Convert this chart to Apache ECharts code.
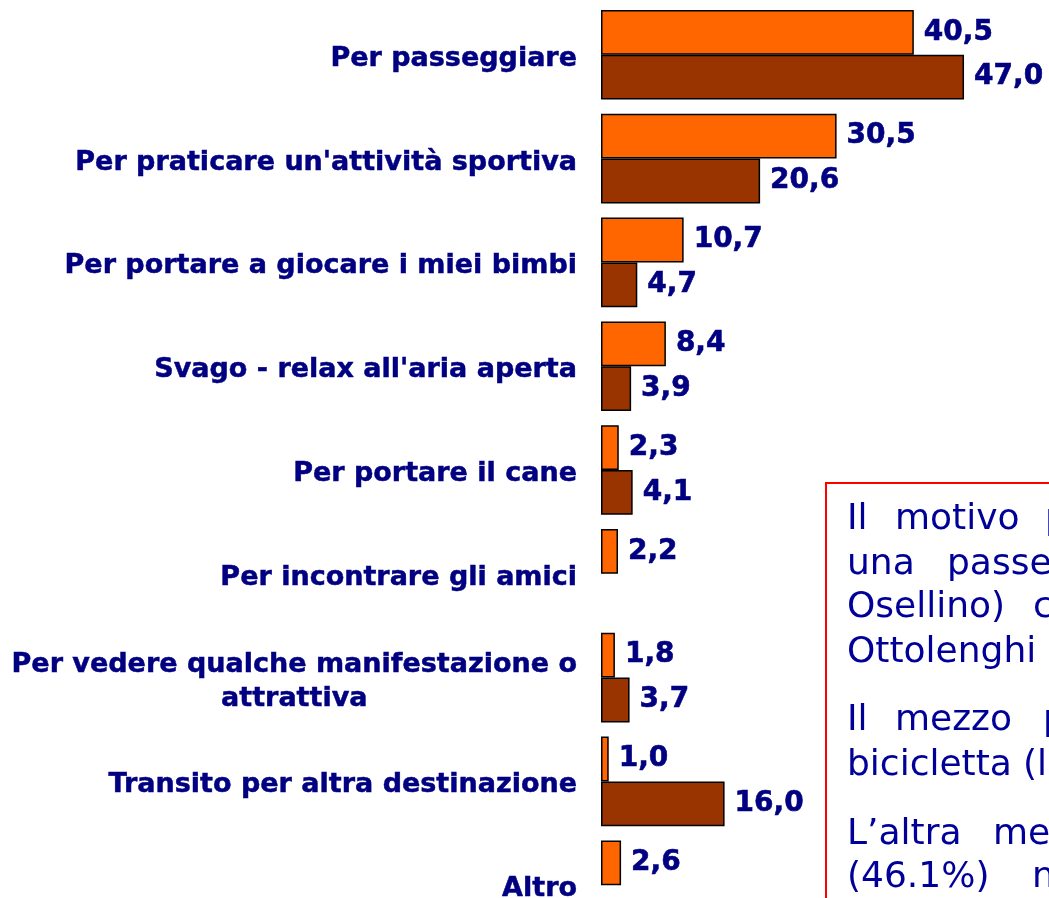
<!DOCTYPE html>
<html>
<head>
<meta charset="utf-8">
<script src="https://cdn.jsdelivr.net/npm/echarts@6/dist/echarts.min.js"></script>
<style>
  html, body { margin: 0; padding: 0; background: #ffffff; overflow: hidden; }
  #chart { width: 1049px; height: 940px; }
</style>
</head>
<body>
<div id="chart"></div>
<script>
// categorie (dall'alto in basso)
const categorie = [
  'Per passeggiare',
  "Per praticare un'attività sportiva",
  'Per portare a giocare i miei bimbi',
  "Svago - relax all'aria aperta",
  'Per portare il cane',
  'Per incontrare gli amici',
  'Per vedere qualche manifestazione o\nattrattiva',
  'Transito per altra destinazione',
  'Altro'
];
// serie arancione e marrone (valori %)
const serieArancio = [40.5, 30.5, 10.7, 8.4, 2.3, 2.2, 1.8, 1.0, 2.6];
const serieMarrone = [47.0, 20.6, 4.7, 3.9, 4.1, null, 3.7, 16.0, null];

// testo del riquadro (tagliato dal bordo dell'immagine)
const righeNota = [
  { y: 530, parole: [['Il', 847], ['motivo', 895], ['p', 1045]] },
  { y: 575, parole: [['una', 847], ['passe', 947]] },
  { y: 618, parole: [['Osellino)', 847], ['c', 1033]] },
  { y: 663, parole: [['Ottolenghi', 847]] },
  { y: 731, parole: [['Il', 847], ['mezzo', 895], ['p', 1043]] },
  { y: 776, parole: [['bicicletta', 847], ['(l', 1023]] },
  { y: 845, parole: [['L\u2019altra', 847], ['me', 993]] },
  { y: 888, parole: [['(46.1%)', 847], ['n', 1032]] }
];

const navy = '#000080';
const font = 'DejaVu Sans';

const chart = echarts.init(document.getElementById('chart'), null, { renderer: 'canvas' });

// etichette dei valori, stile "Verdana bold" un po' più pieno
const etichetta = {
  show: true,
  position: 'right',
  distance: 10,
  color: navy,
  fontFamily: font,
  fontWeight: 'bold',
  fontSize: 28,
  textBorderColor: navy,
  textBorderWidth: 0.6,
  formatter: (p) => p.value == null ? '' : p.value.toFixed(1).replace('.', ',')
};

const graficiNota = [
  {
    type: 'rect',
    shape: { x: 826, y: 483, width: 400, height: 500 },
    style: { fill: '#ffffff', stroke: '#ff0000', lineWidth: 2 },
    z: 10
  }
];
righeNota.forEach((riga) => {
  riga.parole.forEach(([testo, x]) => {
    graficiNota.push({
      type: 'text',
      x: x,
      y: riga.y + 8,
      z: 11,
      style: {
        text: testo,
        fill: '#000099',
        font: '36px "DejaVu Sans"',
        align: 'left',
        verticalAlign: 'bottom'
      }
    });
  });
});

chart.setOption({
  animation: false,
  backgroundColor: '#ffffff',
  grid: { left: 601, right: 0, top: 2.9, height: 934.2, containLabel: false },
  xAxis: {
    type: 'value',
    min: 0,
    max: 58,
    show: false
  },
  yAxis: {
    type: 'category',
    inverse: true,
    data: categorie,
    axisLine: { show: false },
    axisTick: { show: false },
    axisLabel: {
      margin: 24,
      padding: [8, 0, 0, 0],
      color: navy,
      fontFamily: font,
      fontWeight: 'bold',
      fontSize: 27,
      lineHeight: 34,
      formatter: (v) => v.split('\n').map((r) => '{c|' + r + '}').join('\n'),
      rich: {
        c: {
          align: 'center',
          color: navy,
          fontFamily: font,
          fontWeight: 'bold',
          fontSize: 27,
          lineHeight: 34,
          textBorderColor: navy,
          textBorderWidth: 0.5
        }
      }
    }
  },
  series: [
    {
      type: 'bar',
      data: serieArancio,
      barWidth: 44.8,
      barGap: '0%',
      itemStyle: { color: '#ff6600', borderColor: '#000000', borderWidth: 1.5 },
      label: etichetta
    },
    {
      type: 'bar',
      data: serieMarrone,
      barWidth: 44.8,
      barGap: '0%',
      itemStyle: { color: '#993300', borderColor: '#000000', borderWidth: 1.5 },
      label: etichetta
    }
  ],
  graphic: graficiNota
});
</script>
</body>
</html>
